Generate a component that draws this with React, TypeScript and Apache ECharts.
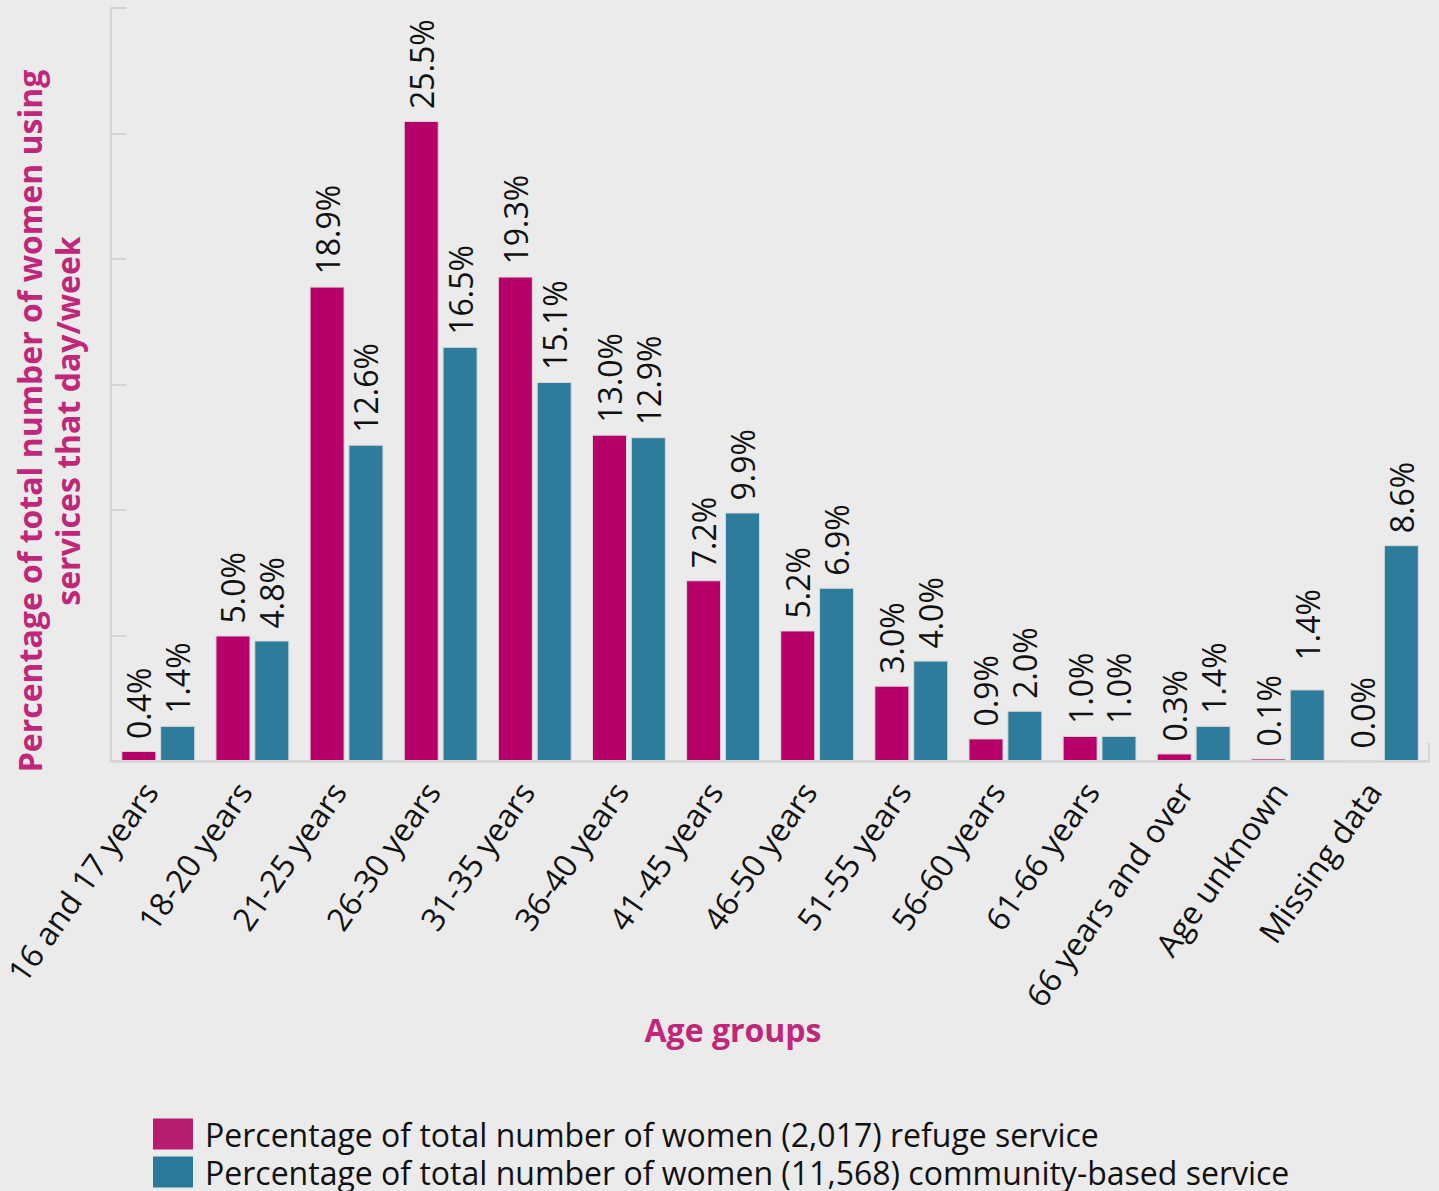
import React, { useEffect, useRef } from "react";
import * as echarts from "echarts";

const categories = [
  "16 and 17 years",
  "18-20 years",
  "21-25 years",
  "26-30 years",
  "31-35 years",
  "36-40 years",
  "41-45 years",
  "46-50 years",
  "51-55 years",
  "56-60 years",
  "61-66 years",
  "66 years and over",
  "Age unknown",
  "Missing data",
];

const refugeValues = [0.4, 5.0, 18.9, 25.5, 19.3, 13.0, 7.2, 5.2, 3.0, 0.9, 1.0, 0.3, 0.1, 0.0];
const refugeLabels = ["0.4%", "5.0%", "18.9%", "25.5%", "19.3%", "13.0%", "7.2%", "5.2%", "3.0%", "0.9%", "1.0%", "0.3%", "0.1%", "0.0%"];

// bar heights as drawn (the "Age unknown" bar is drawn taller than its printed label)
const communityValues = [1.4, 4.8, 12.6, 16.5, 15.1, 12.9, 9.9, 6.9, 4.0, 2.0, 1.0, 1.4, 2.85, 8.6];
const communityLabels = ["1.4%", "4.8%", "12.6%", "16.5%", "15.1%", "12.9%", "9.9%", "6.9%", "4.0%", "2.0%", "1.0%", "1.4%", "1.4%", "8.6%"];

const seriesNames = [
  "Percentage of total number of women (2,017) refuge service",
  "Percentage of total number of women (11,568) community-based service",
];

const yTitle = ["Percentage of total number of women using", "services that day/week"];
const xTitle = "Age groups";

const MAGENTA = "#b8006b";
const TEAL = "#2e7c9c";
const FONT = "'Open Sans', 'Noto Sans', sans-serif";

export default function App() {
  const ref = useRef<HTMLDivElement>(null);
  useEffect(() => {
    if (!ref.current) return;
    const chart = echarts.init(ref.current, null, { renderer: "svg" });
    const labelBase = {
      show: true,
      position: "top",
      rotate: 90,
      align: "left",
      verticalAlign: "middle",
      distance: 12,
      fontSize: 32,
      fontFamily: FONT,
      color: "#111",
    };
    chart.setOption({
      animation: false,
      backgroundColor: "#ebebeb",
      textStyle: { fontFamily: FONT },
      grid: { left: 109, right: 10, top: 8, bottom: 430, containLabel: false },
      legend: {
        orient: "vertical",
        left: 153,
        top: 1118,
        height: 200,
        padding: 0,
        itemWidth: 40,
        itemHeight: 31,
        itemGap: 6,
        icon: "rect",
        textStyle: {
          fontSize: 32,
          lineHeight: 32,
          fontFamily: FONT,
          color: "#111",
          padding: [0, 0, 0, 7],
        },
        data: [
          { name: seriesNames[0], itemStyle: { color: "#b71c6e", borderWidth: 0 } },
          { name: seriesNames[1], itemStyle: { color: "#2a7a9b", borderWidth: 0 } },
        ],
      },
      xAxis: {
        type: "category",
        data: categories,
        axisLine: { lineStyle: { color: "#d3d3d3", width: 2.5 } },
        axisTick: { show: false },
        axisLabel: {
          rotate: 55,
          interval: 0,
          margin: 12,
          padding: [0, 15, 0, 0],
          fontSize: 32,
          fontFamily: FONT,
          color: "#111",
        },
      },
      yAxis: {
        type: "value",
        min: 0,
        max: 30,
        interval: 5,
        axisLine: { show: true, lineStyle: { color: "#d3d3d3", width: 2 } },
        axisTick: { show: true, inside: true, length: 15, lineStyle: { color: "#d3d3d3", width: 2 } },
        axisLabel: { show: false },
        splitLine: { show: false },
      },
      graphic: [
        {
          type: "text",
          x: 48,
          y: 421,
          rotation: Math.PI / 2,
          style: {
            text: yTitle.join("\n"),
            fontSize: 32,
            fontWeight: "bold",
            fontFamily: FONT,
            fill: "#c0267a",
            align: "center",
            verticalAlign: "middle",
            lineHeight: 38,
          },
        },
        {
          type: "text",
          x: 733,
          y: 1029,
          style: {
            text: xTitle,
            fontSize: 32,
            fontWeight: "bold",
            fontFamily: FONT,
            fill: "#c0267a",
            align: "center",
            verticalAlign: "middle",
          },
        },
        {
          type: "line",
          shape: { x1: 1429, y1: 743, x2: 1429, y2: 761 },
          style: { stroke: "#d3d3d3", lineWidth: 2 },
        },
      ],
      series: [
        {
          name: seriesNames[0],
          type: "bar",
          barWidth: 35,
          barGap: "11%",
          data: refugeValues,
          itemStyle: { color: MAGENTA, borderColor: "#d8d8d8", borderWidth: 1 },
          label: { ...labelBase, formatter: (p: any) => refugeLabels[p.dataIndex] },
        },
        {
          name: seriesNames[1],
          type: "bar",
          barWidth: 35,
          data: communityValues.map((v, i) =>
            i === 12 ? { value: v, label: { distance: 29 } } : v
          ),
          itemStyle: { color: TEAL, borderColor: "#d8d8d8", borderWidth: 1 },
          label: { ...labelBase, formatter: (p: any) => communityLabels[p.dataIndex] },
        },
      ],
    });
    return () => chart.dispose();
  }, []);
  return (
    <div
      ref={ref}
      style={{ position: "fixed", left: 0, top: 0, width: 1439, height: 1191 }}
    />
  );
}
